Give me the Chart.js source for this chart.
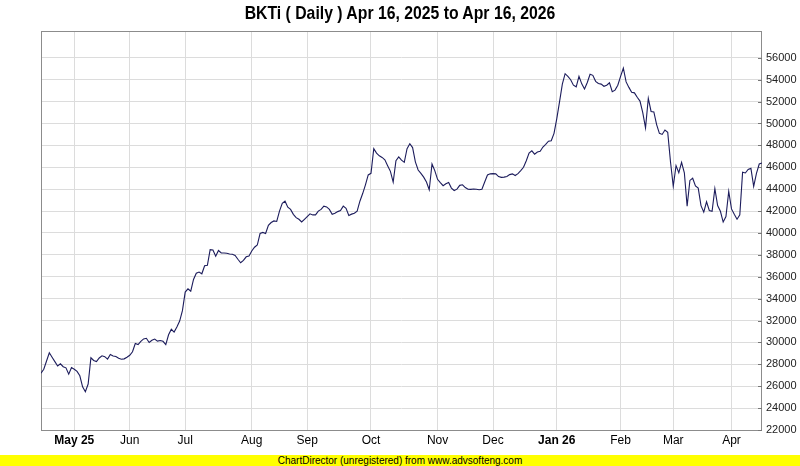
<!DOCTYPE html>
<html><head><meta charset="utf-8">
<script src="https://cdn.jsdelivr.net/npm/chart.js@4"></script>
<style>
html,body{margin:0;padding:0;background:#fff;}
#wrap{position:relative;width:800px;height:455px;}
#title{position:absolute;left:0;top:2px;width:800px;height:24px;line-height:24px;text-align:center;font:bold 19px "Liberation Sans Narrow","Arial Narrow","Liberation Sans",sans-serif;color:#000;transform:scaleX(0.83);transform-origin:400px 50%;white-space:nowrap;}
#bar{position:absolute;left:0;top:455px;width:800px;height:11px;background:#ffff00;font:10px "Liberation Sans Narrow","Arial Narrow",sans-serif;line-height:11px;text-align:center;color:#000;}
</style></head>
<body>
<div id="wrap"><canvas id="c" width="800" height="455"></canvas><div id="title"></div></div>
<div id="bar">ChartDirector (unregistered) from www.advsofteng.com</div>
<script>
const titleText = 'BKTi ( Daily ) Apr 16, 2025 to Apr 16, 2026';
const monthTickIdx = [12, 32, 52, 76, 96, 119, 143, 163, 186, 209, 228, 249];
const monthLabels = ['May 25','Jun','Jul','Aug','Sep','Oct','Nov','Dec','Jan 26','Feb','Mar','Apr'];
const yTickValues = [22000,24000,26000,28000,30000,32000,34000,36000,38000,40000,42000,44000,46000,48000,50000,52000,54000,56000];
const closeValues = [
27190,27550,28300,29050,28650,28250,27850,28050,27780,27680,
27100,27700,27550,27350,26950,25950,25500,26200,28600,28350,
28250,28580,28780,28700,28480,28900,28760,28720,28560,28470,
28500,28650,28830,29150,29900,29800,30100,30320,30380,29990,
30200,30310,30120,30180,30100,29800,30700,31200,30950,31400,
31950,32900,34600,34900,34680,35750,36320,36430,36270,37000,
37050,38480,38450,37880,38400,38180,38170,38150,38080,38050,
37950,37600,37280,37500,37820,37900,38350,38700,38900,39950,
40050,39950,40700,40950,41100,41050,42000,42700,42900,42350,
42150,41700,41400,41250,41000,41250,41500,41750,41650,41650,
42000,42150,42450,42380,42150,41700,41800,41950,42050,42450,
42250,41600,41720,41800,42000,42900,43600,44400,45300,45450,
47700,47300,47050,46900,46690,46150,45630,44650,46600,46950,
46650,46450,47700,48150,47800,46500,45750,45450,45100,44650,
43950,46300,45700,44900,44600,44320,44500,44620,44100,43880,
44000,44350,44400,44150,44000,43980,44020,44000,43950,44000,
44650,45300,45400,45420,45400,45150,45080,45100,45160,45330,
45400,45250,45420,45700,46000,46600,47300,47500,47200,47400,
47460,47850,48100,48380,48430,49100,50450,52000,53600,54550,
54300,54000,53500,53350,54300,53620,53150,53750,54500,54400,
53850,53650,53600,53400,53500,53720,52900,53050,53500,54300,
55050,53800,53300,52850,52800,52400,52050,51000,49600,52300,
51100,51050,49900,49100,49000,49400,49200,46500,44270,46150,
45500,46450,45500,42450,44800,45000,44300,44100,42500,41900,
42850,42050,41980,44050,42500,41980,41000,41500,43800,42200,
41700,41250,41650,45550,45480,45800,45900,44250,45450,46300,
46400
];

document.getElementById('title').textContent = titleText;
const points = closeValues.map((v, i) => ({x: i, y: v}));
const narrow = '"Liberation Sans Narrow","Arial Narrow","Liberation Sans",sans-serif';

const frame = {
  id: 'frame',
  beforeDatasetsDraw(chart) {
    const a = chart.chartArea, ctx = chart.ctx;
    ctx.save();
    ctx.strokeStyle = '#8c8c8c';
    ctx.lineWidth = 1;
    ctx.strokeRect(Math.round(a.left) + 0.5, Math.round(a.top) + 0.5, Math.round(a.right - a.left) - 1, Math.round(a.bottom - a.top));
    const ys = chart.scales.y;
    ctx.strokeStyle = '#777';
    ys.ticks.forEach(t => {
      const py = Math.round(ys.getPixelForValue(t.value)) + 0.5;
      ctx.beginPath();
      ctx.moveTo(Math.round(a.right) - 4, py);
      ctx.lineTo(Math.round(a.right), py);
      ctx.stroke();
    });
    ctx.restore();
  }
};

new Chart(document.getElementById('c'), {
  type: 'line',
  data: {
    datasets: [{
      data: points,
      borderColor: '#1c1c5c',
      borderWidth: 1.1,
      pointRadius: 0,
      tension: 0,
      fill: false
    }]
  },
  options: {
    responsive: false,
    animation: false,
    devicePixelRatio: 1,
    layout: {padding: {left: 41, right: 0, top: 31, bottom: 0}},
    plugins: {
      legend: {display: false},
      tooltip: {enabled: false},
      title: {display: false}
    },
    scales: {
      x: {
        type: 'linear',
        min: 0,
        max: closeValues.length - 1,
        afterBuildTicks: s => { s.ticks = monthTickIdx.map(v => ({value: v})); },
        afterFit: s => { s.height = 25; },
        grid: {color: '#dcdcdc', drawTicks: false},
        border: {display: false},
        ticks: {
          autoSkip: false,
          maxRotation: 0,
          padding: 3,
          color: '#000',
          font: ctx => ({family: narrow, size: 12, weight: (ctx.tick && monthLabels[monthTickIdx.indexOf(ctx.tick.value)].length > 3) ? 'bold' : 'normal'}),
          callback: v => { const k = monthTickIdx.indexOf(v); return k >= 0 ? monthLabels[k] : ''; }
        }
      },
      y: {
        type: 'linear',
        position: 'right',
        min: 22000,
        max: 58450,
        afterBuildTicks: s => { s.ticks = yTickValues.map(v => ({value: v})); },
        afterFit: s => { s.width = 38; },
        grid: {color: '#dcdcdc', drawTicks: false},
        border: {display: false},
        ticks: {
          padding: 4,
          color: '#222',
          font: {family: '"Liberation Sans",Arial,sans-serif', size: 11},
          callback: v => String(v)
        }
      }
    }
  },
  plugins: [frame]
});
</script>
</body></html>
